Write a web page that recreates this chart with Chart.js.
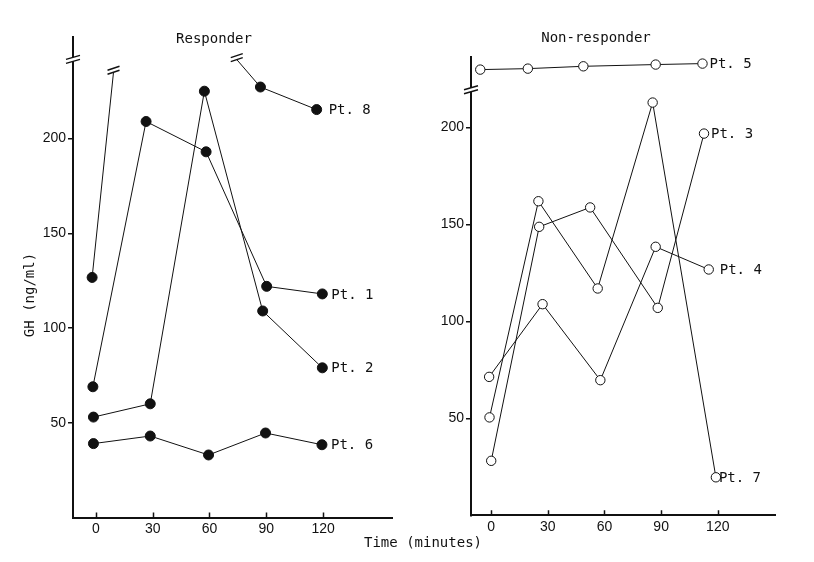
<!DOCTYPE html>
<html>
<head>
<meta charset="utf-8">
<script src="https://cdn.jsdelivr.net/npm/chart.js@4.4.1/dist/chart.umd.min.js"></script>
<style>
body { margin: 0; background: #fff; }
#wrap { position: relative; width: 814px; height: 562px; }
#left { position: absolute; left: 0; top: 0; }
#right { position: absolute; left: 400px; top: 0; }
</style>
</head>
<body>
<div id="wrap">
  <canvas id="left" width="814" height="562" style="width:814px;height:562px"></canvas>
  <canvas id="right" width="414" height="562" style="width:414px;height:562px"></canvas>
</div>
<script>
// tick labels
let timeTicks = [0, 30, 60, 90, 120];
let ghTicks = [50, 100, 150, 200];

// responders, GH (ng/ml) against time (min)
let pt1Time = [-1.6, 26.5, 58.2, 90.2, 119.6];
let pt1GH = [69, 209, 193, 122, 118];
let pt2Time = [-1.3, 28.7, 57.3, 88.1, 119.6];
let pt2GH = [53, 60, 225, 109, 79];
let pt6Time = [-1.3, 28.7, 59.5, 89.6, 119.4];
let pt6GH = [39, 43, 33, 44.6, 38.4];
let pt8Time = [-2, 86.9, 116.6];
let pt8GH = [126.7, 227.2, 215.3];
// where pt 8 leaves the scale and comes back (break marks)
let pt8OffTime = [9.3, 74.4];
let pt8OffGH = [235, 241.7];

// non-responders
let pt3Time = [0, 25.4, 52.4, 88.2, 112.7];
let pt3GH = [28.1, 148.8, 158.8, 107, 196.9];
let pt4Time = [-1.1, 27.2, 57.8, 87.1, 115.2];
let pt4GH = [71.4, 108.9, 69.7, 138.5, 126.8];
let pt5Time = [-5.8, 19.4, 48.8, 87.1, 111.9];
let pt5GH = [229.9, 230.4, 231.6, 232.5, 233.0];
let pt7Time = [-0.9, 25, 56.4, 85.5, 119];
let pt7GH = [50.5, 162, 117, 212.9, 19.6];

let ink = '#111';

function pts(t, v) {
  return t.map((x, i) => ({ x: x, y: v[i] }));
}

function slash(ctx, x, y, w) {
  ctx.fillStyle = '#fff';
  ctx.beginPath();
  ctx.moveTo(x - w, y + 1);
  ctx.lineTo(x + w, y - 3);
  ctx.lineTo(x + w, y + 1);
  ctx.lineTo(x - w, y + 5);
  ctx.closePath();
  ctx.fill();
  ctx.beginPath();
  ctx.moveTo(x - w, y + 1); ctx.lineTo(x + w, y - 3);
  ctx.moveTo(x - w, y + 5); ctx.lineTo(x + w, y + 1);
  ctx.stroke();
}

let breakPlugin = {
  id: 'breaks',
  afterDraw(chart, args, opts) {
    let ctx = chart.ctx, xs = chart.scales.x, ys = chart.scales.y;
    ctx.save();
    ctx.strokeStyle = ink;
    // time ticks point up into the plot
    ctx.lineWidth = 1.5;
    ctx.beginPath();
    xs.ticks.forEach(t => {
      let px = Math.round(xs.getPixelForValue(t.value)) + 0.5;
      ctx.moveTo(px, ys.bottom);
      ctx.lineTo(px, ys.bottom - 5);
    });
    ctx.stroke();
    ctx.lineWidth = 1.4;
    (opts.axis || []).forEach(v => slash(ctx, xs.left, ys.getPixelForValue(v) - 2, 7));
    (opts.marks || []).forEach(m => slash(ctx, xs.getPixelForValue(m.x), ys.getPixelForValue(m.y) - 3, 6));
    ctx.restore();
  }
};

let textPlugin = {
  id: 'texts',
  afterDraw(chart, args, opts) {
    let ctx = chart.ctx;
    ctx.save();
    ctx.fillStyle = ink;
    ctx.font = '14px "DejaVu Sans Mono"';
    ctx.textBaseline = 'middle';
    chart.data.datasets.forEach((ds, i) => {
      if (!ds.ptLabel) return;
      let el = chart.getDatasetMeta(i).data;
      let p = el[el.length - 1];
      ctx.textAlign = 'left';
      ctx.fillText(ds.ptLabel, p.x + ds.labelDx, p.y + 1);
    });
    (opts.items || []).forEach(t => {
      ctx.save();
      ctx.translate(t.x, t.y);
      ctx.rotate(t.rot || 0);
      ctx.textAlign = 'center';
      ctx.fillText(t.text, 0, 0);
      ctx.restore();
    });
    ctx.restore();
  }
};

function series(label, data, filled, dx) {
  return {
    data: data,
    ptLabel: label,
    labelDx: dx,
    borderColor: ink,
    borderWidth: 1,
    pointRadius: c => (c.raw && c.raw.off) ? 0 : (filled ? 5 : 4.7),
    pointBackgroundColor: filled ? ink : '#fff',
    pointBorderColor: ink,
    pointBorderWidth: 1,
    tension: 0,
    spanGaps: false
  };
}

function makeChart(id, cfg) {
  return new Chart(document.getElementById(id), {
    type: 'line',
    data: { datasets: cfg.datasets },
    options: {
      responsive: false,
      animation: false,
      events: [],
      layout: { padding: { left: 0, top: cfg.top, right: cfg.right, bottom: 0 } },
      plugins: {
        legend: { display: false },
        tooltip: { enabled: false },
        breaks: cfg.breaks,
        texts: { items: cfg.texts }
      },
      scales: {
        x: {
          type: 'linear',
          min: cfg.xMin,
          max: cfg.xMax,
          afterBuildTicks: s => { s.ticks = timeTicks.map(v => ({ value: v })); },
          afterFit: s => { s.height = cfg.xHeight; },
          grid: { drawOnChartArea: false, drawTicks: false },
          border: { color: ink, width: 2 },
          ticks: { padding: 3, color: ink, font: { family: 'Liberation Sans', size: 14 } }
        },
        y: {
          type: 'linear',
          min: 0,
          max: cfg.yMax,
          afterBuildTicks: s => { s.ticks = ghTicks.map(v => ({ value: v })); },
          afterFit: s => { s.width = cfg.yWidth; },
          grid: { drawOnChartArea: false, tickLength: 5, color: ink, lineWidth: 1.5 },
          border: { color: ink, width: 2 },
          ticks: { padding: 2, color: ink, font: { family: 'Liberation Sans', size: 14 } }
        }
      }
    },
    plugins: [breakPlugin, textPlugin]
  });
}

let pt8Data = [
  { x: pt8Time[0], y: pt8GH[0] },
  { x: pt8OffTime[0], y: pt8OffGH[0], off: true },
  { x: 40, y: null, off: true },
  { x: pt8OffTime[1], y: pt8OffGH[1], off: true },
  { x: pt8Time[1], y: pt8GH[1] },
  { x: pt8Time[2], y: pt8GH[2] }
];

makeChart('left', {
  datasets: [
    series('Pt. 8', pt8Data, true, 12),
    series('Pt. 1', pts(pt1Time, pt1GH), true, 9),
    series('Pt. 2', pts(pt2Time, pt2GH), true, 9),
    series('Pt. 6', pts(pt6Time, pt6GH), true, 9)
  ],
  top: 37, right: 814 - 392, xHeight: 44.5, yWidth: 73,
  xMin: -12.1, xMax: 156.4, yMax: 253.6,
  breaks: {
    axis: [241.3],
    marks: pt8OffTime.map((t, i) => ({ x: t, y: pt8OffGH[i] }))
  },
  texts: [
    { text: 'Responder', x: 214, y: 39 },
    { text: 'GH (ng/ml)', x: 30, y: 295, rot: -Math.PI / 2 },
    { text: 'Time (minutes)', x: 423, y: 543 }
  ]
});

makeChart('right', {
  datasets: [
    series('Pt. 5', pts(pt5Time, pt5GH), false, 7),
    series('Pt. 3', pts(pt3Time, pt3GH), false, 7),
    series('Pt. 4', pts(pt4Time, pt4GH), false, 11),
    series('Pt. 7', pts(pt7Time, pt7GH), false, 3)
  ],
  top: 57, right: 414 - 375, xHeight: 46.7, yWidth: 71,
  xMin: -10.7, xMax: 150.3, yMax: 236.4,
  breaks: { axis: [219] },
  texts: [
    { text: 'Non-responder', x: 196, y: 38 }
  ]
});
</script>
</body>
</html>
